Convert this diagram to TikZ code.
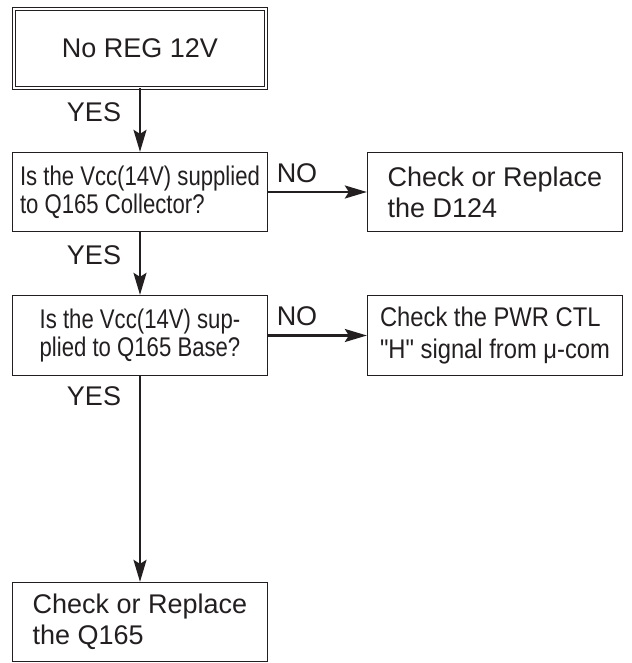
\documentclass[tikz,border=0pt]{standalone}
\usepackage{fontspec}
\setmainfont{Liberation Sans}
\newfontfamily\narrowfont{Liberation Sans}[FakeStretch=0.82]
\newfontfamily\semifont{Liberation Sans}[FakeStretch=0.88]
\usetikzlibrary{arrows.meta}

\definecolor{ink}{RGB}{35,31,32}

\tikzset{
    box/.style={draw=ink, line width=1.3pt, minimum width=255pt, minimum height=79pt,
        align=left, inner sep=0pt, text=ink, font=\fontsize{27}{31}\selectfont},
    qbox/.style={box, font={\narrowfont\fontsize{27}{28}\selectfont}},
    flow/.style={draw=ink, line width=2.2pt, -{Stealth[length=22pt,width=13pt,inset=4pt]}},
    tag/.style={text=ink, inner sep=0pt, font=\fontsize{27}{30}\selectfont}
}

\begin{document}
\begin{tikzpicture}[x=1pt, y=-1pt]

    \useasboundingbox (0,0) rectangle (631,663);

    % --- Start ---
    \node[box, double, line width=0.9pt, double distance=2pt, minimum width=252pt,
        minimum height=79pt, align=center] (noreg) at (140,48.5) {No REG 12V};

    % --- Questions ---
    \node[qbox] (collector) at (140,192) {Is the Vcc(14V) supplied\\to Q165 Collector?};
    \node[qbox, minimum height=80pt] (base) at (140,335.5) {Is the Vcc(14V) sup-\\plied to Q165 Base?};

    % --- Actions ---
    \node[box] (diode) at (495,192) {Check or Replace\\the D124};
    \node[box, minimum height=80pt, font={\semifont\fontsize{27}{32}\selectfont}] (pwrctl) at (495,335.5)
        {Check the PWR CTL\\"H" signal from μ-com};
    \node[box] (transistor) at (140,622) {Check or Replace\\the Q165};

    % --- Connectors ---
    \draw[flow] (noreg) -- (collector);
    \draw[flow] (collector) -- (diode);
    \draw[flow] (collector) -- (base);
    \draw[flow] (base) -- (pwrctl);
    \draw[flow] (base) -- (transistor);

    % --- Labels ---
    \node[tag] (yes1) at (94,112) {YES};
    \node[tag] (yes2) at (94,255) {YES};
    \node[tag] (yes3) at (94,396) {YES};
    \node[tag] (no1) at (297,173) {NO};
    \node[tag] (no2) at (297,316) {NO};

\end{tikzpicture}
\end{document}
